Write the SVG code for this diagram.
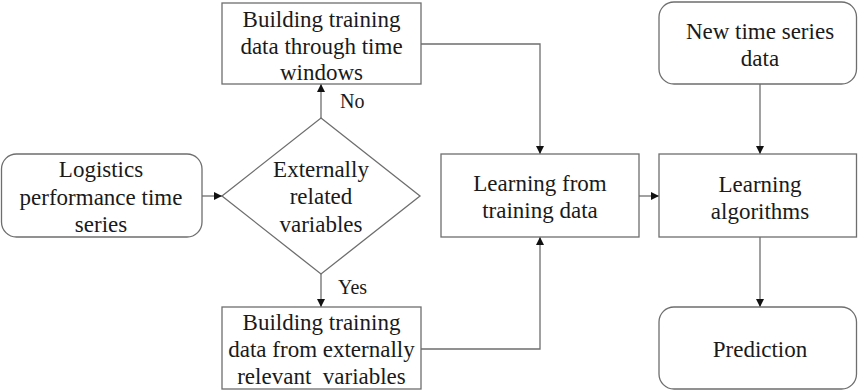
<svg xmlns="http://www.w3.org/2000/svg" width="858" height="392" viewBox="0 0 858 392">
  <style>
    .box { fill: #ffffff; stroke: #6e6e6e; stroke-width: 1.3; }
    .lbl { font-family: 'Liberation Serif', 'DejaVu Serif', serif; font-size: 23px; fill: #1a1a1a; text-anchor: middle; }
    .tag { font-family: 'Liberation Serif', 'DejaVu Serif', serif; font-size: 20px; fill: #1a1a1a; }
    .wire { fill: none; stroke: #6e6e6e; stroke-width: 1.3; }
  </style>
  <defs>
    <marker id="arrow" viewBox="0 0 10 10" refX="10" refY="5" markerWidth="8" markerHeight="8" markerUnits="userSpaceOnUse" orient="auto">
      <path d="M0,0 L10,5 L0,10 z" fill="#111111"/>
    </marker>
  </defs>
  <rect width="858" height="392" fill="#ffffff"/>

  <g id="connectors">
    <line class="wire" x1="202" y1="196" x2="222" y2="196" marker-end="url(#arrow)"/>
    <line class="wire" x1="321" y1="118" x2="321" y2="84" marker-end="url(#arrow)"/>
    <line class="wire" x1="321" y1="274" x2="321" y2="307" marker-end="url(#arrow)"/>
    <polyline class="wire" points="421,44 540,44 540,154" marker-end="url(#arrow)"/>
    <polyline class="wire" points="421,349 540,349 540,237" marker-end="url(#arrow)"/>
    <line class="wire" x1="639" y1="196" x2="659" y2="196" marker-end="url(#arrow)"/>
    <line class="wire" x1="760" y1="84" x2="760" y2="154" marker-end="url(#arrow)"/>
    <line class="wire" x1="760" y1="237" x2="760" y2="307" marker-end="url(#arrow)"/>
    <text class="tag" x="340" y="108">No</text>
    <text class="tag" x="338" y="294">Yes</text>
  </g>

  <g id="logistics-series">
    <rect class="box" x="1.5" y="154" width="200.5" height="83" rx="15"/>
    <text class="lbl" x="101" y="177">Logistics</text>
    <text class="lbl" x="101" y="204.5">performance time</text>
    <text class="lbl" x="101" y="232">series</text>
  </g>

  <g id="external-check">
    <polygon class="box" points="321,118 420,196 321,274 222,196"/>
    <text class="lbl" x="321" y="177">Externally</text>
    <text class="lbl" x="321" y="204">related</text>
    <text class="lbl" x="321" y="232">variables</text>
  </g>

  <g id="time-windows">
    <rect class="box" x="222" y="3" width="199" height="81"/>
    <text class="lbl" x="321.5" y="27">Building training</text>
    <text class="lbl" x="321.5" y="54">data through time</text>
    <text class="lbl" x="321.5" y="80">windows</text>
  </g>

  <g id="external-variables">
    <rect class="box" x="222" y="307" width="199" height="82"/>
    <text class="lbl" x="321.5" y="330">Building training</text>
    <text class="lbl" x="321.5" y="357">data from externally</text>
    <text class="lbl" x="321.5" y="384" xml:space="preserve">relevant  variables</text>
  </g>

  <g id="learning-training">
    <rect class="box" x="441" y="154" width="198" height="83"/>
    <text class="lbl" x="540" y="191">Learning from</text>
    <text class="lbl" x="540" y="218">training data</text>
  </g>

  <g id="new-series">
    <rect class="box" x="659" y="2" width="197.5" height="82" rx="15"/>
    <text class="lbl" x="760" y="39">New time series</text>
    <text class="lbl" x="760" y="66">data</text>
  </g>

  <g id="learning-algorithms">
    <rect class="box" x="659" y="154" width="197.5" height="83"/>
    <text class="lbl" x="760" y="192">Learning</text>
    <text class="lbl" x="760" y="219">algorithms</text>
  </g>

  <g id="prediction">
    <rect class="box" x="659" y="307" width="197.5" height="82" rx="15"/>
    <text class="lbl" x="760" y="357">Prediction</text>
  </g>
</svg>
